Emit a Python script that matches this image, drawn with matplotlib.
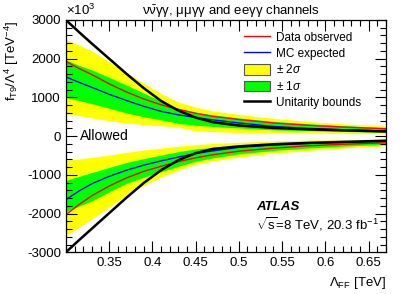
import matplotlib
matplotlib.use("Agg")
import matplotlib.pyplot as plt
from matplotlib.ticker import MultipleLocator, FixedLocator
from matplotlib.patches import Patch
from matplotlib.lines import Line2D

plt.rcParams['font.family'] = ['Liberation Sans', 'DejaVu Sans']
plt.rcParams['mathtext.fontset'] = 'custom'
plt.rcParams['mathtext.rm'] = 'Liberation Sans'
plt.rcParams['mathtext.it'] = 'Liberation Sans:italic'
plt.rcParams['mathtext.bf'] = 'Liberation Sans:bold'

# Lambda_FF [TeV]
lam = [0.30, 0.315, 0.33, 0.35, 0.37, 0.39, 0.41, 0.43, 0.45, 0.47, 0.50, 0.54, 0.58, 0.62, 0.67]

# upper branch (x10^3 TeV^-4)
obs_hi = [1930, 1750, 1590, 1350, 1140, 960, 810, 690, 590, 510, 430, 340, 280, 235, 190]
exp_hi = [1530, 1390, 1260, 1080, 920, 770, 640, 550, 480, 420, 340, 250, 200, 165, 130]
unit_hi = [3000, 2690, 2390, 2000, 1610, 1240, 910, 660, 480, 360, 275, 212, 176, 150, 120]
y2_hi_top = [2500, 2350, 2200, 1920, 1640, 1370, 1100, 880, 750, 650, 560, 460, 380, 320, 260]
y2_hi_bot = [580, 530, 470, 400, 340, 300, 270, 230, 140, 115, 95, 80, 75, 70, 60]
g1_hi_top = [1970, 1830, 1710, 1520, 1320, 1110, 900, 720, 620, 550, 470, 380, 320, 270, 220]
g1_hi_bot = [1000, 920, 840, 720, 600, 500, 420, 330, 280, 250, 210, 160, 140, 120, 100]

# lower branch
obs_lo = [-2030, -1770, -1540, -1290, -1080, -910, -780, -660, -560, -480, -390, -310, -250, -210, -170]
exp_lo = [-1640, -1420, -1230, -1040, -880, -750, -640, -540, -450, -380, -290, -230, -190, -160, -130]
unit_lo = [-3000, -2690, -2390, -1990, -1590, -1210, -880, -620, -440, -330, -265, -210, -175, -150, -120]
y2_lo_top = [-620, -590, -550, -490, -420, -360, -310, -260, -220, -190, -160, -125, -100, -85, -70]
y2_lo_bot = [-2570, -2360, -2140, -1830, -1530, -1280, -1060, -880, -730, -640, -540, -440, -370, -310, -250]
g1_lo_top = [-1140, -1040, -940, -810, -680, -580, -490, -400, -330, -290, -240, -185, -150, -125, -110]
g1_lo_bot = [-1950, -1810, -1670, -1440, -1220, -1060, -920, -780, -650, -560, -460, -370, -310, -260, -210]

yticks = [-3000, -2000, -1000, 0, 1000, 2000, 3000]
xticks = [0.35, 0.4, 0.45, 0.5, 0.55, 0.6, 0.65]

fig = plt.figure(figsize=(4.07, 2.94), dpi=100)
ax = fig.add_axes([0.162, 0.142, 0.786, 0.79])

ax.fill_between(lam, y2_hi_bot, y2_hi_top, color='#ffff00', lw=0)
ax.fill_between(lam, g1_hi_bot, g1_hi_top, color='#00ff00', lw=0)
ax.fill_between(lam, y2_lo_bot, y2_lo_top, color='#ffff00', lw=0)
ax.fill_between(lam, g1_lo_bot, g1_lo_top, color='#00ff00', lw=0)

ax.plot(lam, obs_hi, color='#ff0000', lw=1)
ax.plot(lam, obs_lo, color='#ff0000', lw=1)
ax.plot(lam, exp_hi, color='#0000ff', lw=1)
ax.plot(lam, exp_lo, color='#0000ff', lw=1)
ax.plot(lam, unit_hi, color='black', lw=1.8)
ax.plot(lam, unit_lo, color='black', lw=1.8)

ax.set_xlim(0.30, 0.67)
ax.set_ylim(-3000, 3000)
ax.xaxis.set_major_locator(FixedLocator(xticks))
ax.xaxis.set_minor_locator(MultipleLocator(0.01))
ax.yaxis.set_major_locator(FixedLocator(yticks))
ax.yaxis.set_minor_locator(MultipleLocator(200))
ax.set_xticklabels([('%g' % t) for t in xticks])
ax.set_yticklabels([('%d' % t) for t in yticks])
ax.tick_params(which='both', direction='in', top=True, right=True, labelsize=9.5, width=0.8)
ax.tick_params(which='major', length=8)
ax.tick_params(which='minor', length=4)
for s in ax.spines.values():
    s.set_linewidth(0.9)

ax.set_xlabel(r'$\Lambda_{\rm FF}$ [TeV]', fontsize=9.5, loc='right')
ax.set_ylabel(r'f$_{\rm T9}$/$\Lambda^4$ [TeV$^{-4}$]', fontsize=9.5, loc='top')
fig.text(0.162, 0.95, r'$\times$10$^{3}$', fontsize=9.5, ha='left', va='baseline')
fig.text(0.35, 0.95, r'$\mathrm{\nu\bar{\nu}\gamma\gamma}$, $\mathrm{\mu\mu\gamma\gamma}$ and ee$\mathrm{\gamma\gamma}$ channels',
         fontsize=9.5, ha='left', va='baseline')

ax.text(0.316, 0, 'Allowed', fontsize=10, va='center', ha='left')
ax.text(0.52, -1900, 'ATLAS', fontsize=9.5, fontweight='bold', style='italic')
ax.text(0.52, -2420, r'$\sqrt{\rm s}$=8 TeV, 20.3 fb$^{-1}$', fontsize=9.5)

handles = [Line2D([], [], color='#ff0000', lw=1),
           Line2D([], [], color='#0000ff', lw=1),
           Patch(facecolor='#ffff00', edgecolor='#555555', lw=0.8),
           Patch(facecolor='#00ff00', edgecolor='#555555', lw=0.8),
           Line2D([], [], color='black', lw=1.8)]
labels = ['Data observed', 'MC expected', r'$\pm$ 2$\sigma$', r'$\pm$ 1$\sigma$', 'Unitarity bounds']
ax.legend(handles, labels, loc='upper left', bbox_to_anchor=(0.53, 0.985), frameon=False,
          fontsize=8.5, handlelength=2.2, handleheight=1.0, labelspacing=0.3, borderpad=0.2,
          handletextpad=0.5)

fig.savefig('out.png', dpi=100)
